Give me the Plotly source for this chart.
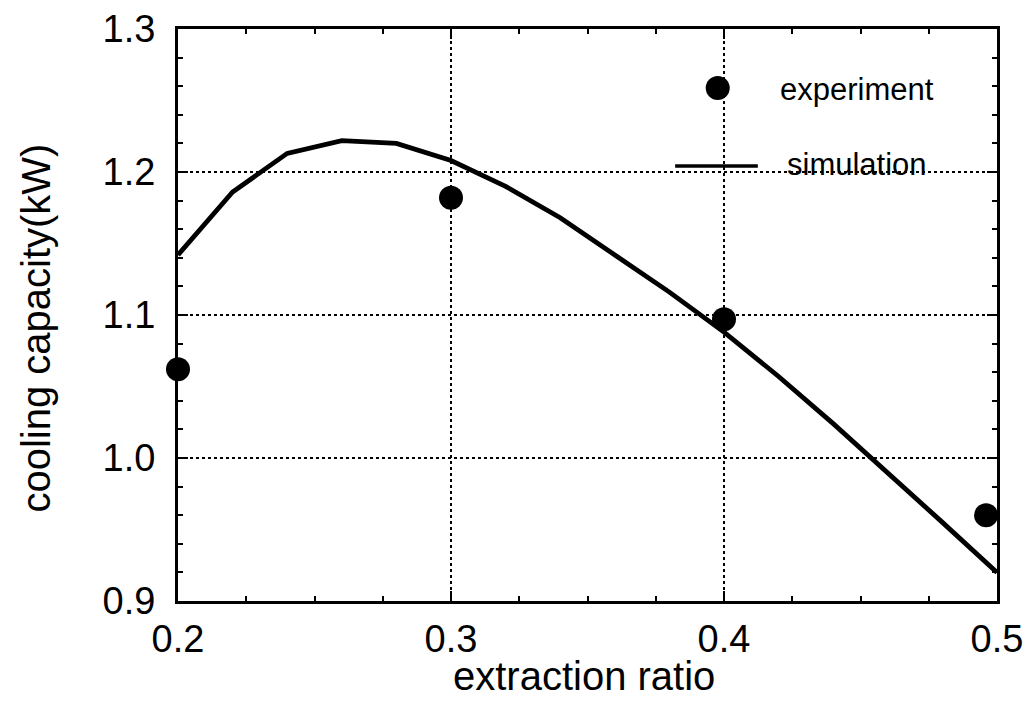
import plotly.graph_objects as go

# Data
exp_x = [0.200, 0.300, 0.400, 0.496]
exp_y = [1.062, 1.182, 1.097, 0.960]

sim_x = [0.20, 0.22, 0.24, 0.26, 0.28, 0.30, 0.32, 0.34, 0.36, 0.38,
         0.40, 0.42, 0.44, 0.46, 0.48, 0.50]
sim_y = [1.142, 1.186, 1.213, 1.222, 1.220, 1.208, 1.190, 1.168, 1.142, 1.116,
         1.088, 1.057, 1.024, 0.990, 0.955, 0.920]

x_ticks = [0.2, 0.3, 0.4, 0.5]
y_ticks = [0.9, 1.0, 1.1, 1.2, 1.3]

FONT = "Liberation Sans, Arial, sans-serif"

fig = go.Figure()
fig.add_trace(go.Scatter(x=sim_x, y=sim_y, mode="lines",
                         line=dict(color="black", width=4.8),
                         name="simulation", showlegend=False))
fig.add_trace(go.Scatter(x=exp_x, y=exp_y, mode="markers",
                         marker=dict(color="black", size=24),
                         name="experiment", showlegend=False, cliponaxis=False))

# custom legend (white box over grid)
fig.add_shape(type="rect", xref="paper", yref="paper", x0=0.591, x1=0.961,
              y0=0.701, y1=0.955, fillcolor="white", line=dict(width=0),
              layer="between")
fig.add_shape(type="circle", xref="paper", yref="paper",
              xsizemode="pixel", ysizemode="pixel",
              xanchor=0.659, yanchor=0.897, x0=-12, x1=12, y0=-12, y1=12,
              fillcolor="black", line=dict(color="black", width=0))
fig.add_shape(type="line", xref="paper", yref="paper", x0=0.607, x1=0.708,
              y0=0.7605, y1=0.7605, line=dict(color="black", width=3.5))
fig.add_annotation(xref="paper", yref="paper", x=0.7326, y=0.895,
                   xanchor="left", yanchor="middle", showarrow=False,
                   text="experiment", font=dict(family=FONT, size=31, color="black"))
fig.add_annotation(xref="paper", yref="paper", x=0.741, y=0.7625,
                   xanchor="left", yanchor="middle", showarrow=False,
                   text="simulation", font=dict(family=FONT, size=31, color="black"))

# axis titles
fig.add_annotation(xref="paper", yref="paper", x=0.4957, y=-0.131,
                   xanchor="center", yanchor="middle", showarrow=False,
                   text="extraction ratio", font=dict(family=FONT, size=40, color="black"))
fig.add_annotation(xref="paper", yref="paper", x=-0.1734, y=0.478,
                   xanchor="center", yanchor="middle", showarrow=False, textangle=-90,
                   text="cooling capacity(kW)", font=dict(family=FONT, size=40, color="black"))

axis_common = dict(
    automargin=False,
    showline=True, linecolor="black", linewidth=3, mirror="allticks",
    ticks="inside", ticklen=10, tickwidth=2, tickcolor="black",
    showgrid=True, gridcolor="black", gridwidth=1.5, griddash="dot",
    zeroline=False,
    tickfont=dict(family=FONT, size=38, color="black"),
    tickformat=".1f",
)

fig.update_xaxes(range=[0.2, 0.5], tickvals=x_ticks,
                 minor=dict(dtick=0.025, ticks="inside", ticklen=5,
                            tickwidth=1.5, tickcolor="black", showgrid=False),
                 ticklabelstandoff=2,
                 **axis_common)
fig.update_yaxes(range=[0.9, 1.3], tickvals=y_ticks,
                 minor=dict(dtick=0.02, ticks="inside", ticklen=5,
                            tickwidth=1.5, tickcolor="black", showgrid=False),
                 ticklabelstandoff=12,
                 **axis_common)

# page body has an 8px margin, so the figure is 8px smaller and shifted
fig.update_layout(width=1028, height=706,
                  margin=dict(l=170, r=39, t=21, b=113, autoexpand=False),
                  plot_bgcolor="white", paper_bgcolor="white",
                  showlegend=False)

fig.write_html("out.html")
